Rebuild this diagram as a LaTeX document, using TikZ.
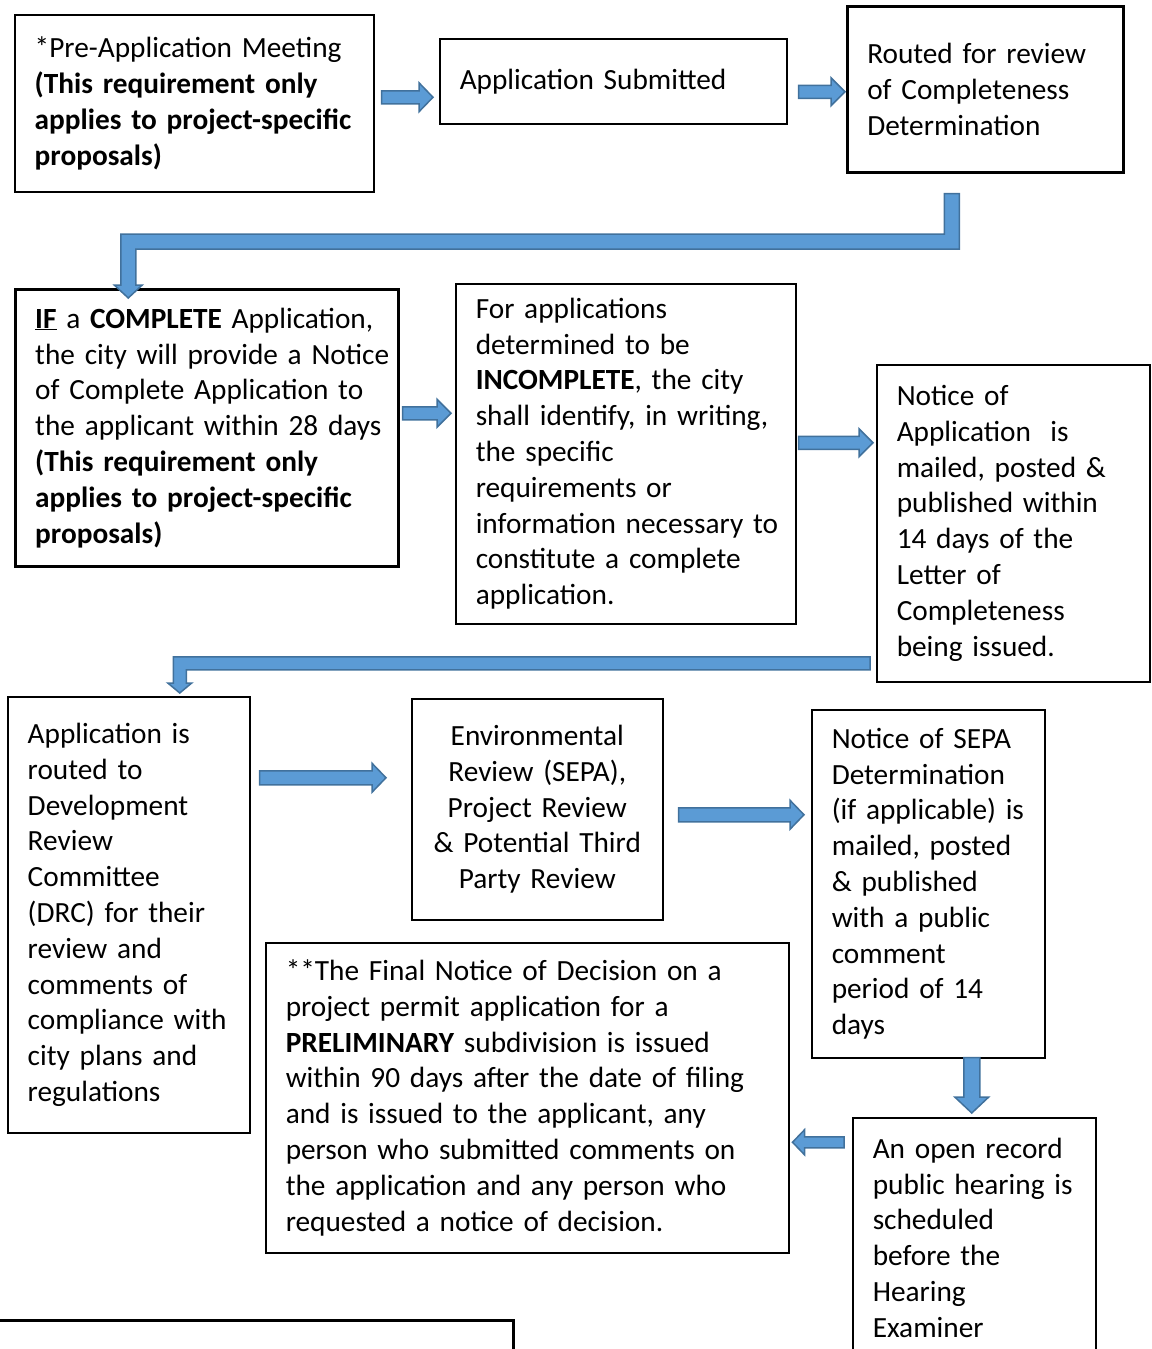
\documentclass[tikz,border=0pt]{standalone}
\usepackage{fontspec}
\setmainfont{Carlito}
\usepackage{tikz}
\usetikzlibrary{calc}
\definecolor{myblue}{RGB}{91,155,213}
\definecolor{mydarkblue}{RGB}{65,113,156}
\tikzset{
  box/.style 2 args={draw, line width=1.5pt, anchor=north west, inner xsep=0pt,
    minimum width=#1, text width=#1, minimum height=#2, align=left,
    execute at begin node={\leftskip=20pt\relax}, font=\fontsize{29.3}{35.8}\selectfont},
  thickbox/.style 2 args={box={#1}{#2}, line width=2.5pt},
  arrowbody/.style={fill=myblue, draw=mydarkblue, line width=1.5pt, line join=miter},
}
% straight block arrow: tail, tip, half shaft, half head, head length
\newcommand{\blockarrow}[5]{%
  \coordinate (bah) at ($(#2)!#5!(#1)$);
  \filldraw[arrowbody] ($(#1)!#3!90:(#2)$) -- ($(bah)!#3!90:(#2)$) -- ($(bah)!#4!90:(#2)$) -- (#2)
    -- ($(bah)!#4!-90:(#2)$) -- ($(bah)!#3!-90:(#2)$) -- ($(#1)!#3!-90:(#2)$) -- cycle;
}
% bent block arrow: tail, tip, drop to bar, half shaft, half head, head length
\newcommand{\elbowarrow}[6]{%
  \filldraw[arrowbody] let \p1=(#1), \p2=(#2) in
    (\x1-#4,\y1) -- (\x1+#4,\y1) -- (\x1+#4,\y1-#3-#4) -- (\x2+#4,\y1-#3-#4) -- (\x2+#4,\y2+#6)
    -- (\x2+#5,\y2+#6) -- (\x2,\y2) -- (\x2-#5,\y2+#6) -- (\x2-#4,\y2+#6) -- (\x2-#4,\y1-#3+#4)
    -- (\x1-#4,\y1-#3+#4) -- cycle;
}
\begin{document}
\begin{tikzpicture}[x=1pt,y=-1pt]
\useasboundingbox (0,0) rectangle (1151,1349);
% boxes
\node[box={359pt}{177pt}] (pre) at (14,14)
  {*Pre-Application Meeting\\ \textbf{(This requirement only}\\ \textbf{applies to project-specific}\\ \textbf{proposals)}};
\node[box={347pt}{85pt}] (sub) at (439,38)
  {Application Submitted};
\node[thickbox={276pt}{166pt}] (routed) at (846,5)
  {Routed for review\\ of Completeness\\ Determination};
\node[thickbox={383pt}{277pt}] (ifc) at (14,288)
  {\underline{\textbf{IF}} a \textbf{COMPLETE} Application,\\ the city will provide a Notice\\ of Complete Application to\\ the applicant within 28 days\\ \textbf{(This requirement only}\\ \textbf{applies to project-specific}\\ \textbf{proposals)}};
\node[box={340pt}{340pt}] (incomp) at (455,283)
  {For applications\\ determined to be\\ \textbf{INCOMPLETE}, the city\\ shall identify, in writing,\\ the specific\\ requirements or\\ information necessary to\\ constitute a complete\\ application.};
\node[box={273pt}{317pt}] (notapp) at (876,364)
  {Notice of\\ Application\ \ is\\ mailed, posted \&\\ published within\\ 14 days of the\\ Letter of\\ Completeness\\ being issued.};
\node[box={242pt}{436pt}] (drc) at (7,696)
  {Application is\\ routed to\\ Development\\ Review\\ Committee\\ (DRC) for their\\ review and\\ comments of\\ compliance with\\ city plans and\\ regulations};
\node[box={251pt}{221pt}, align=center,
  execute at begin node={\leftskip=0pt plus 1fil\rightskip=0pt plus 1fil\relax}] (env) at (411,698)
  {Environmental\\ Review (SEPA),\\ Project Review\\ \& Potential Third\\ Party Review};
\node[box={233pt}{348pt}] (sepa) at (811,709)
  {Notice of SEPA\\ Determination\\ (if applicable) is\\ mailed, posted\\ \& published\\ with a public\\ comment\\ period of 14\\ days};
\node[box={523pt}{310pt}] (final) at (265,942)
  {**The Final Notice of Decision on a\\ project permit application for a\\ \textbf{PRELIMINARY} subdivision is issued\\ within 90 days after the date of filing\\ and is issued to the applicant, any\\ person who submitted comments on\\ the application and any person who\\ requested a notice of decision.};
\node[box={243pt}{240pt}] (hear) at (852,1117)
  {An open record\\ public hearing is\\ scheduled\\ before the\\ Hearing\\ Examiner};
\node[thickbox={530pt}{80pt}] (blank) at (-18,1319) {};
% arrows
\coordinate (a1s) at ($(pre.east)+(7,-6)$);       \coordinate (a1e) at ($(sub.west |- a1s)+(-6,0)$);
\coordinate (a2s) at ($(sub.east)+(11,10.5)$);    \coordinate (a2e) at ($(routed.west |- a2s)+(-1,0)$);
\coordinate (a3s) at ($(ifc.east)+(3,-14.5)$);    \coordinate (a3e) at ($(incomp.west |- a3s)+(-4,0)$);
\coordinate (a4s) at ($(incomp.east)+(2,-11)$);   \coordinate (a4e) at ($(notapp.west |- a4s)+(-3,0)$);
\coordinate (a5s) at ($(drc.east)+(9,-137)$);     \coordinate (a5e) at ($(env.west |- a5s)+(-25,0)$);
\coordinate (a6s) at ($(env.east)+(15,5.5)$);     \coordinate (a6e) at ($(sepa.west |- a6s)+(-7,0)$);
\coordinate (a7s) at ($(sepa.south)+(43.5,-1)$);  \coordinate (a7e) at ($(a7s |- hear.north)+(0,-4)$);
\coordinate (a8s) at ($(hear.west)+(-8,-95.5)$);  \coordinate (a8e) at ($(final.east |- a8s)+(3,0)$);
\coordinate (e1s) at ($(routed.south)+(-33.5,20)$); \coordinate (e1e) at ($(ifc.north)+(-78.5,10)$);
\coordinate (e2s) at ($(notapp.west)+(-12.5,133.5)$); \coordinate (e2e) at ($(drc.north)+(51,-3)$);
\blockarrow{a1s}{a1e}{6.5pt}{14.5pt}{14pt}
\blockarrow{a2s}{a2e}{6.5pt}{14pt}{14pt}
\blockarrow{a3s}{a3e}{6.5pt}{14pt}{14pt}
\blockarrow{a4s}{a4e}{6.5pt}{14pt}{14pt}
\blockarrow{a5s}{a5e}{7pt}{14.5pt}{14pt}
\blockarrow{a6s}{a6e}{7pt}{14.5pt}{14pt}
\blockarrow{a7s}{a7e}{8pt}{17pt}{16pt}
\blockarrow{a8s}{a8e}{5.5pt}{12.5pt}{12pt}
\elbowarrow{e1s}{e1e}{48pt}{7.5pt}{14pt}{13pt}
\elbowarrow{e2s}{e2e}{6.5pt}{6.5pt}{12pt}{10pt}
\end{tikzpicture}
\end{document}
